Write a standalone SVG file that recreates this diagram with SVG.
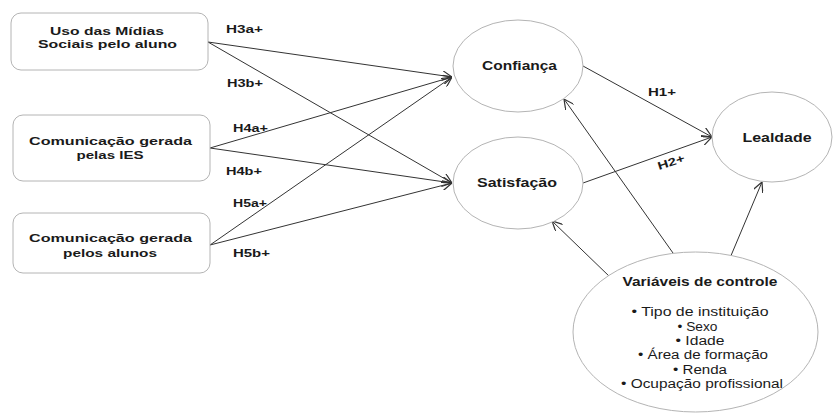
<svg xmlns="http://www.w3.org/2000/svg" width="833" height="417" viewBox="0 0 833 417">
<defs>
<style>
.box{fill:#fff;stroke:#b4b4b4;stroke-width:1}
.ell{fill:#fff;stroke:#b4b4b4;stroke-width:1}
.t{font-family:"Liberation Sans",Arial,sans-serif;font-weight:bold;fill:#1a1a1a;text-anchor:middle}
.r{font-family:"Liberation Sans",Arial,sans-serif;fill:#1a1a1a;text-anchor:middle;font-size:12.5px}
.lbl{font-family:"Liberation Sans",Arial,sans-serif;font-weight:bold;fill:#1a1a1a;font-size:11px}
.c{stroke:#333;stroke-width:1;fill:none;marker-end:url(#ah)}
</style>
<marker id="ah" viewBox="0 0 10 10" refX="10" refY="5" markerWidth="10" markerHeight="10" markerUnits="userSpaceOnUse" orient="auto">
<path d="M0,0 L10,5 L0,10" fill="none" stroke="#333" stroke-width="1.2"/>
</marker>
</defs>
<rect width="833" height="417" fill="#fff"/>

<g id="connectors">
<line class="c" x1="208" y1="42" x2="452" y2="77"/>
<line class="c" x1="208" y1="42" x2="452" y2="183"/>
<line class="c" x1="210" y1="148" x2="452" y2="77"/>
<line class="c" x1="210" y1="148" x2="452" y2="183"/>
<line class="c" x1="210" y1="245" x2="452" y2="77"/>
<line class="c" x1="210" y1="245" x2="452" y2="183"/>
<line class="c" x1="583" y1="66" x2="712" y2="137"/>
<line class="c" x1="583" y1="183" x2="712" y2="137"/>
<line class="c" x1="673" y1="253" x2="564" y2="99"/>
<line class="c" x1="610" y1="277" x2="552" y2="221"/>
<line class="c" x1="730" y1="258" x2="762" y2="182"/>
<text class="lbl" x="226" y="33" textLength="37" lengthAdjust="spacingAndGlyphs">H3a+</text>
<text class="lbl" x="227" y="87" textLength="36" lengthAdjust="spacingAndGlyphs">H3b+</text>
<text class="lbl" x="233" y="132" textLength="35" lengthAdjust="spacingAndGlyphs">H4a+</text>
<text class="lbl" x="226" y="175" textLength="36" lengthAdjust="spacingAndGlyphs">H4b+</text>
<text class="lbl" x="233" y="207" textLength="34" lengthAdjust="spacingAndGlyphs">H5a+</text>
<text class="lbl" x="233" y="257" textLength="37" lengthAdjust="spacingAndGlyphs">H5b+</text>
<text class="lbl" x="648" y="96" textLength="28" lengthAdjust="spacingAndGlyphs">H1+</text>
<text class="lbl" x="0" y="0" textLength="28" lengthAdjust="spacingAndGlyphs" transform="translate(659,170) rotate(-18)">H2+</text>
</g>

<g id="node-uso">
<rect class="box" x="11" y="13" width="197" height="57" rx="10"/>
<text class="t" font-size="11.5" x="107" y="35" textLength="114" lengthAdjust="spacingAndGlyphs">Uso das Mídias</text>
<text class="t" font-size="11.5" x="107.5" y="48" textLength="139" lengthAdjust="spacingAndGlyphs">Sociais pelo aluno</text>
</g>

<g id="node-ies">
<rect class="box" x="13" y="115" width="197" height="66" rx="10"/>
<text class="t" font-size="11.5" x="110.5" y="145" textLength="163" lengthAdjust="spacingAndGlyphs">Comunicação gerada</text>
<text class="t" font-size="11.5" x="110" y="159" textLength="67" lengthAdjust="spacingAndGlyphs">pelas IES</text>
</g>

<g id="node-alunos">
<rect class="box" x="13" y="213" width="197" height="60" rx="10"/>
<text class="t" font-size="11.5" x="110.5" y="242" textLength="163" lengthAdjust="spacingAndGlyphs">Comunicação gerada</text>
<text class="t" font-size="11.5" x="110" y="257" textLength="94" lengthAdjust="spacingAndGlyphs">pelos alunos</text>
</g>

<g id="node-confianca">
<ellipse class="ell" cx="518" cy="66" rx="65" ry="46"/>
<text class="t" font-size="12.5" x="519.5" y="70" textLength="75" lengthAdjust="spacingAndGlyphs">Confiança</text>
</g>

<g id="node-satisfacao">
<ellipse class="ell" cx="518" cy="183" rx="65" ry="46"/>
<text class="t" font-size="12.5" x="517" y="187" textLength="80" lengthAdjust="spacingAndGlyphs">Satisfação</text>
</g>

<g id="node-lealdade">
<ellipse class="ell" cx="772" cy="137" rx="60" ry="45"/>
<text class="t" font-size="12.5" x="777" y="142" textLength="69" lengthAdjust="spacingAndGlyphs">Lealdade</text>
</g>

<g id="node-controle">
<ellipse class="ell" cx="695.5" cy="332" rx="122.5" ry="80"/>
<text class="t" font-size="13" x="700" y="286" textLength="155" lengthAdjust="spacingAndGlyphs">Variáveis de controle</text>
<text class="r" x="700" y="316" textLength="137" lengthAdjust="spacingAndGlyphs">• Tipo de instituição</text>
<text class="r" x="697.5" y="330.5" textLength="40" lengthAdjust="spacingAndGlyphs">• Sexo</text>
<text class="r" x="700" y="345" textLength="49" lengthAdjust="spacingAndGlyphs">• Idade</text>
<text class="r" x="703" y="359" textLength="130" lengthAdjust="spacingAndGlyphs">• Área de formação</text>
<text class="r" x="700" y="373.5" textLength="54" lengthAdjust="spacingAndGlyphs">• Renda</text>
<text class="r" x="702" y="388" textLength="162" lengthAdjust="spacingAndGlyphs">• Ocupação profissional</text>
</g>
</svg>
